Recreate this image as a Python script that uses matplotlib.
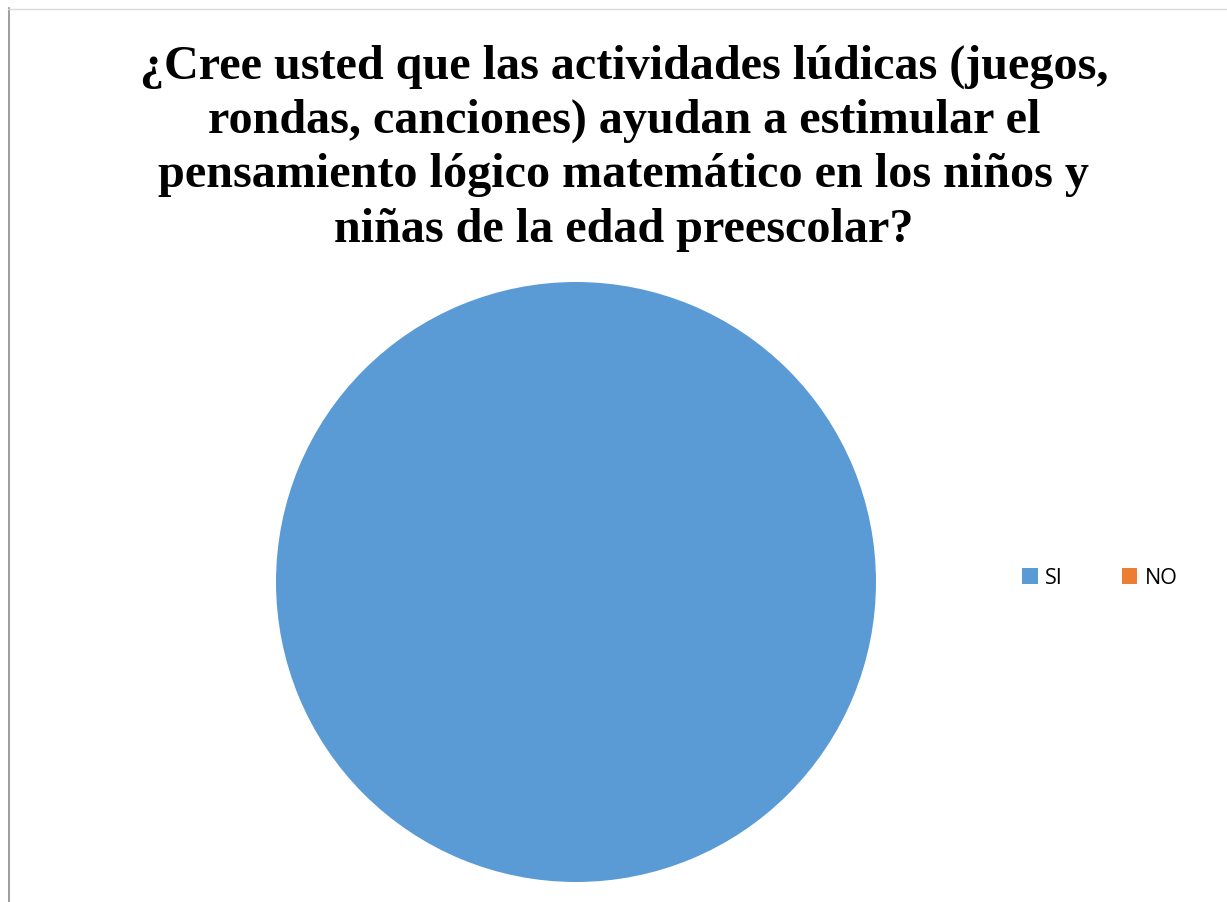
import matplotlib
matplotlib.use("Agg")
import matplotlib.pyplot as plt
from matplotlib.patches import Patch
from matplotlib.lines import Line2D

categories = ["SI", "NO"]
values = [100, 0]
colors = ["#5B9BD5", "#ED7D31"]
title = ("¿Cree usted que las actividades lúdicas (juegos,\n"
         "rondas, canciones) ayudan a estimular el\n"
         "pensamiento lógico matemático en los niños y\n"
         "niñas de la edad preescolar?")

W, H = 1227, 903
fig = plt.figure(figsize=(W / 100, H / 100), dpi=100)
fig.patch.set_facecolor("white")

# frame lines
fig.add_artist(Line2D([8.5 / W, 8.5 / W], [0, 1 - 9 / H], color="#8c8c8c", lw=1.2))
fig.add_artist(Line2D([8 / W, 1], [1 - 9.5 / H, 1 - 9.5 / H], color="#d9d9d9", lw=1.0))

# pie: center (576,583), radius 300
r = 300
ax = fig.add_axes([(576 - r) / W, (H - 583 - r) / H, 2 * r / W, 2 * r / H])
ax.pie(values, colors=colors, startangle=90, counterclock=False, radius=1.0,
       wedgeprops=dict(linewidth=0))
ax.set_xlim(-1, 1)
ax.set_ylim(-1, 1)
ax.set_aspect("equal")
ax.axis("off")

fig.text(624 / W, 1 - 148 / H, title, ha="center", va="center",
         family="Liberation Serif", fontweight="bold", fontsize=34.7,
         linespacing=1.3)

handles = [Patch(facecolor=c, edgecolor="none") for c in colors]
fig.legend(handles, categories, loc="center left", bbox_to_anchor=(1022 / W, 1 - 579 / H),
           ncol=2, frameon=False, prop={"family": "Open Sans", "size": 15.5},
           borderpad=0, borderaxespad=0,
           handlelength=0.72, handleheight=0.72, handletextpad=0.34, columnspacing=2.75)

fig.savefig("out.png", dpi=100)
